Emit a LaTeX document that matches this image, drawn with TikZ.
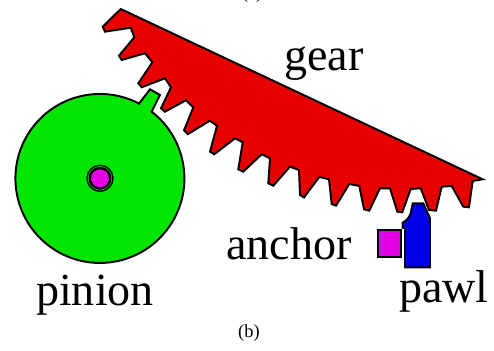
\documentclass[tikz,border=0pt]{standalone}
\usepackage{fontspec}
\setmainfont{Liberation Serif}
\definecolor{gearred}{RGB}{230,0,0}
\definecolor{piniongreen}{RGB}{0,230,0}
\definecolor{pawlblue}{RGB}{0,0,230}
\definecolor{pinmagenta}{RGB}{230,0,230}
\begin{document}
\begin{tikzpicture}[x=0.02cm, y=-0.02cm, line width=1.1pt,
    biglabel/.style={anchor=base, inner sep=0pt, font=\fontsize{26.2pt}{30pt}\selectfont},
    smalllabel/.style={anchor=base, inner sep=0pt, font=\fontsize{10.5pt}{12pt}\selectfont}]
  \useasboundingbox (0,0) rectangle (494,351);

  % pinion with its single tooth
  \draw[fill=piniongreen] (139.3,103.3) -- (150,89.3) -- (160,95) -- (151.7,111.7)
    arc[start angle=-52.2, end angle=297.7, radius=84.5] -- cycle;
  \draw[fill=pinmagenta] (100,178.3) circle (10);
  \draw[line width=0.8pt] (100,178.3) circle (13);
  \draw[line width=0.5pt] (100,178.3) circle (11);

  % rack, top edge first, then teeth from left to right
  \draw[fill=gearred] (120.7,9) -- (102.7,26.7) -- (105,31.7) -- (130.7,27.7)
    -- (134.3,37.3) -- (119,55.7) -- (121.7,60) -- (145,53.3)
    -- (152.3,62.3) -- (138.3,83.3) -- (141.7,87.3) -- (165,78.3)
    -- (171,87.3) -- (161,108.3) -- (165,111.7) -- (186,100.3)
    -- (193.3,107.5) -- (184,130.3) -- (187.8,134.2) -- (209.7,120.8)
    -- (217,125.8) -- (210,151.7) -- (214.3,154.3) -- (235,138.3)
    -- (242.7,142.3) -- (238.3,169.3) -- (243.3,171.7) -- (261.7,154.3)
    -- (270,158.3) -- (268.3,183.3) -- (273.3,185.7) -- (290,166.7)
    -- (299,170) -- (300,195) -- (304,197.5) -- (319.3,177)
    -- (329,179.3) -- (331.7,204) -- (336,205.7) -- (349.3,184)
    -- (359.3,186) -- (364,209.3) -- (369.3,210.7) -- (380,188.3)
    -- (390,188.3) -- (397.3,211.7) -- (402.3,212.3) -- (410.7,189)
    -- (420.7,188.3) -- (429,210) -- (436,210.7) -- (441.7,186.7)
    -- (451.7,186) -- (463.3,206.7) -- (469,207.3) -- (472.7,181)
    -- (482.7,179.3) -- cycle;

  % pawl and its anchor block
  \draw[fill=pawlblue] (405,267.3) -- (430,267.3) -- (430,218.3) -- (423.3,203.3)
    -- (412.7,203.3) -- (410.7,213.3) .. controls (409,218) and (406,221) .. (402.7,222.7)
    -- (402.7,227.7) -- (405,228.3) -- cycle;
  \draw[fill=pinmagenta] (378.3,230) rectangle (401,256.7);

  % labels
  \node[biglabel] (gearlabel) at (324,71) {gear};
  \node[biglabel] (pinionlabel) at (95,306) {pinion};
  \node[biglabel] (anchorlabel) at (289,260) {anchor};
  \node[biglabel] (pawllabel) at (444,303) {pawl};
  \node[smalllabel] (toplabel) at (252,-1) {(a)};
  \node[smalllabel] (bottomlabel) at (249,338) {(b)};
\end{tikzpicture}
\end{document}
